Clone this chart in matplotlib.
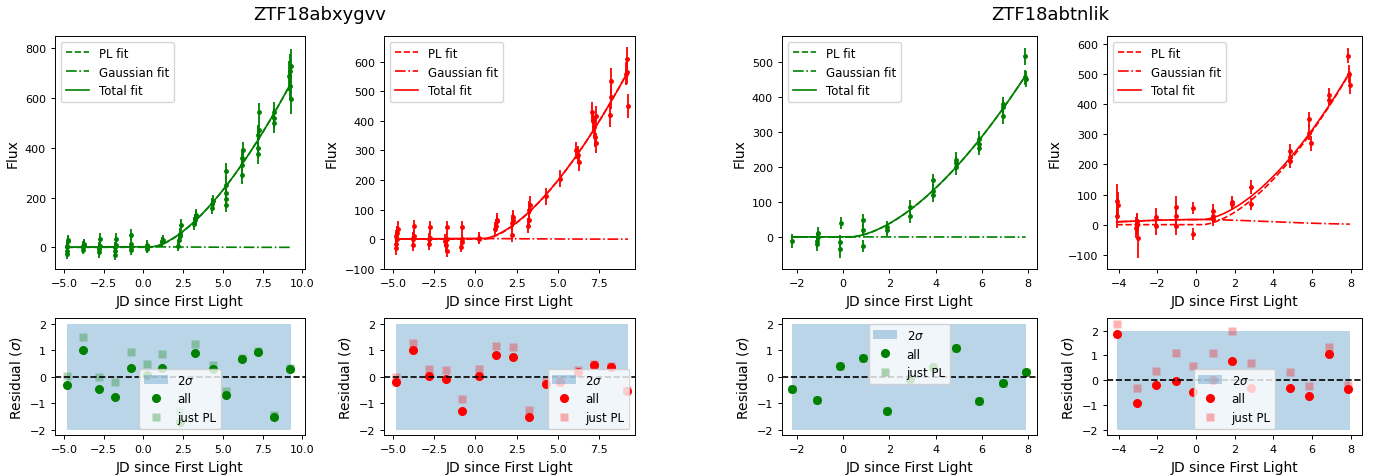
import numpy as np
import matplotlib
matplotlib.use("Agg")
import matplotlib.pyplot as plt
from matplotlib.ticker import MultipleLocator

# ---- ZTF18abxygvv, g band (green) ----
t1 = [-4.8, -4.8, -4.8, -4.8, -4.75, -4.75,
      -3.8, -3.8, -3.8, -3.75, -3.75,
      -2.8, -2.8, -2.8, -2.75, -2.75,
      -1.8, -1.8, -1.8, -1.75, -1.75,
      -0.8, -0.8, -0.75, -0.75,
      0.2, 0.2, 0.25, 0.25,
      1.2, 1.2, 1.25,
      2.2, 2.25, 2.3, 2.3, 2.35,
      3.2, 3.25, 3.3, 3.3,
      4.3, 4.3, 4.35,
      5.2, 5.2, 5.2, 5.2, 5.2,
      6.2, 6.2, 6.2, 6.25,
      7.2, 7.2, 7.2, 7.25, 7.25,
      8.2, 8.2, 8.25,
      9.15, 9.2, 9.25, 9.3, 9.3]
f1 = [-25, -15, 0, 5, 25, 30,
      -10, 0, 5, 10, 15,
      -20, -5, 0, 5, 35,
      -30, -15, 0, 10, 35,
      -10, 0, 15, 50,
      -5, 0, 5, 10,
      20, 25, 30,
      5, 30, 45, 55, 90,
      95, 110, 120, 130,
      160, 175, 185,
      170, 195, 220, 250, 305,
      290, 330, 360, 390,
      375, 400, 450, 470, 545,
      500, 520, 545,
      690, 650, 710, 730, 595]
e1 = [20, 20, 22, 20, 22, 20,
      18, 18, 20, 18, 18,
      22, 22, 20, 22, 22,
      22, 22, 22, 22, 22,
      22, 22, 22, 22,
      18, 18, 18, 18,
      18, 18, 18,
      20, 22, 22, 22, 25,
      25, 25, 25, 25,
      25, 25, 25,
      30, 30, 35, 35, 35,
      35, 35, 35, 35,
      40, 40, 40, 40, 35,
      40, 40, 40,
      60, 60, 65, 65, 60]

# ---- ZTF18abxygvv, r band (red) ----
t2 = [-4.85, -4.8, -4.8, -4.75, -4.75, -4.7,
      -3.8, -3.8, -3.8, -3.75, -3.75,
      -2.8, -2.8, -2.75, -2.75,
      -1.85, -1.8, -1.75, -1.75, -1.7,
      -0.85, -0.8, -0.8, -0.8,
      0.2, 0.2,
      1.2, 1.25, 1.3, 1.3,
      2.2, 2.2, 2.25, 2.25,
      3.2, 3.25, 3.25, 3.3,
      4.25,
      5.1,
      6.1, 6.2, 6.3,
      7.1, 7.15, 7.2, 7.25, 7.3, 7.3,
      8.15, 8.2, 8.2,
      9.15, 9.2, 9.2, 9.25]
f2 = [10, -30, -15, 0, 20, 35,
      -20, 0, 5, 10, 45,
      -15, 0, 5, 40,
      -5, -20, 0, 40, -40,
      -25, -10, 0, 40,
      0, 5,
      35, 45, 60, 65,
      15, 55, 65, 75,
      45, 65, 100, 115,
      145,
      205,
      300, 285, 260,
      430, 400, 380, 345, 415, 325,
      420, 480, 535,
      560, 610, 565, 450]
e2 = [22, 22, 22, 22, 25, 25,
      20, 20, 20, 20, 20,
      22, 22, 22, 20,
      22, 22, 22, 22, 22,
      20, 20, 20, 20,
      18, 18,
      22, 22, 22, 22,
      25, 25, 25, 25,
      25, 25, 30, 30,
      28,
      30,
      30, 30, 30,
      35, 35, 35, 35, 35, 35,
      40, 40, 45,
      40, 40, 40, 40]

# ---- ZTF18abtnlik, g band (green) ----
t3 = [-2.2,
      -1.15, -1.15, -1.1, -1.1,
      -0.15, -0.15, -0.1,
      0.85, 0.85, 0.85,
      1.9, 1.9,
      2.9, 2.9,
      3.9, 3.9, 3.9,
      4.9, 4.9, 4.9,
      5.9, 5.9, 5.9,
      6.9, 6.9, 6.9,
      7.85, 7.85, 7.9]
f3 = [-10,
      -20, -10, 0, 12,
      -35, -15, 40,
      -25, 20, 48,
      20, 28,
      60, 85,
      120, 130, 162,
      200, 210, 220,
      255, 265, 280,
      345, 370, 378,
      455, 515, 450]
e3 = [20,
      20, 20, 18, 18,
      25, 20, 18,
      18, 18, 18,
      18, 18,
      20, 20,
      20, 20, 18,
      22, 22, 22,
      22, 22, 22,
      22, 22, 22,
      22, 25, 22]

# ---- ZTF18abtnlik, r band (red) ----
t4 = [-4.1, -4.1, -4.05,
      -3.1, -3.05, -3.05, -3.0,
      -2.05, -2.05,
      -1.05, -1.05, -1.05,
      -0.15, -0.15,
      0.9, 0.9, 0.9,
      1.85, 1.85,
      2.85, 2.85,
      4.85, 4.85, 4.85,
      5.85, 5.85, 5.95,
      6.85, 6.9,
      7.85, 7.9, 7.95]
f4 = [30, 80, 65,
      -10, 0, 10, -45,
      -5, 25,
      -5, 30, 60,
      -30, 55,
      20, 30, 45,
      70, 75,
      70, 125,
      210, 225, 245,
      305, 350, 270,
      430, 415,
      560, 500, 465]
e4 = [40, 55, 45,
      35, 35, 30, 65,
      30, 30,
      30, 30, 35,
      20, 20,
      25, 25, 25,
      20, 20,
      20, 22,
      22, 22, 22,
      25, 25, 25,
      22, 22,
      25, 30, 30]

# fit parameters: amplitude, t0, index / gaussian amp, centre, width
pl_params = [(21.3, 0.5, 1.58), (18.4, 0.5, 1.58), (15.9, 0.3, 1.66), (17.2, 0.3, 1.66)]
gauss_params = [(2.0, 0.0, 3.0), (2.0, 0.0, 3.0), (0.5, 0.0, 3.0), (17.0, 0.0, 3.8)]

# ---- binned residuals ----
rt1 = [-4.8, -3.8, -2.8, -1.8, -0.8, 0.2, 1.2, 2.3, 3.25, 4.35, 5.2, 6.2, 7.2, 8.2, 9.2]
r_all1 = [-0.3, 1.02, -0.45, -0.77, 0.33, 0.08, 0.33, -1.7, 0.9, 0.3, -0.7, 0.67, 0.95, -1.5, 0.3]
r_pl1 = [0.05, 1.5, 0.0, -0.2, 0.93, 0.48, 0.88, -1.3, 1.25, 0.45, -0.55, 0.72, 0.98, -1.45, 0.32]

rt2 = [-4.8, -3.8, -2.8, -1.8, -0.8, 0.2, 1.25, 2.25, 3.25, 4.25, 5.1, 6.2, 7.2, 8.2, 9.2]
r_all2 = [-0.2, 1.02, 0.05, -0.08, -1.28, 0.03, 0.82, 0.77, -1.5, -0.28, -0.2, 0.2, 0.46, 0.36, -0.53]
r_pl2 = [0.0, 1.27, 0.3, 0.27, -0.83, 0.3, 1.18, 1.13, -1.25, -0.15, -0.1, 0.25, 0.5, 0.4, -0.5]

rt3 = [-2.2, -1.15, -0.15, 0.85, 1.9, 2.9, 3.9, 4.9, 5.9, 6.9, 7.9]
r_all3 = [-0.45, -0.87, 0.4, 0.72, -1.28, -0.07, 0.38, 1.08, -0.93, -0.25, 0.2]
r_pl3 = [-0.45, -0.87, 0.4, 0.72, -1.28, -0.07, 0.38, 1.08, -0.93, -0.25, 0.2]

rt4 = [-4.1, -3.05, -2.05, -1.05, -0.15, 0.9, 1.85, 2.85, 4.85, 5.85, 6.85, 7.85]
r_all4 = [1.87, -0.93, -0.2, -0.02, -0.47, 0.02, 0.77, -0.33, -0.31, -0.63, 1.07, -0.38]
r_pl4 = [2.27, -0.32, 0.37, 1.08, 0.55, 1.1, 2.0, 0.7, 0.33, -0.25, 1.33, -0.2]

names = ["ZTF18abxygvv", "ZTF18abtnlik"]

plt.rcParams["xtick.labelsize"] = 8
plt.rcParams["ytick.labelsize"] = 8
plt.rcParams["legend.fontsize"] = 8.5
plt.rcParams["axes.labelsize"] = 10
plt.rcParams["lines.linewidth"] = 1.2
plt.rcParams["axes.linewidth"] = 0.7
plt.rcParams["xtick.major.size"] = 3
plt.rcParams["ytick.major.size"] = 3
plt.rcParams["xtick.major.width"] = 0.7
plt.rcParams["ytick.major.width"] = 0.7

W, H = 1385, 477
fig = plt.figure(figsize=(W / 100, H / 100), dpi=100)


def box(x0, x1, y0, y1):
    return [x0 / W, 1 - y1 / H, (x1 - x0) / W, (y1 - y0) / H]


lefts = [(55, 305), (384, 635), (782, 1037), (1107, 1362)]
xlims = [(-5.56, 10.17), (-5.55, 9.68), (-2.65, 8.39), (-4.6, 8.58)]
xsteps = [2.5, 2.5, 2, 2]
ylims_top = [(-87, 849), (-101, 687), (-91, 573), (-147, 626)]
ysteps = [200, 100, 100, 100]
ylims_bot = [(-2.2, 2.23), (-2.2, 2.23), (-2.2, 2.23), (-2.22, 2.51)]
res_leg = ["lower center", "lower right", "upper center", "lower center"]
colors = ["green", "red", "green", "red"]

data = [(t1, f1, e1), (t2, f2, e2), (t3, f3, e3), (t4, f4, e4)]
resid = [(rt1, r_all1, r_pl1), (rt2, r_all2, r_pl2), (rt3, r_all3, r_pl3), (rt4, r_all4, r_pl4)]

for i in range(4):
    c = colors[i]
    t, f, e = [np.array(a) for a in data[i]]
    ax = fig.add_axes(box(lefts[i][0], lefts[i][1], 37, 270))
    tt = np.linspace(t.min(), t.max(), 400)
    A, t0, n = pl_params[i]
    g, mu, s = gauss_params[i]
    pl = A * np.clip(tt - t0, 0, None) ** n
    ga = g * np.exp(-(tt - mu) ** 2 / (2 * s ** 2))
    ax.plot(tt, pl, color=c, ls="--", label="PL fit")
    ax.plot(tt, ga, color=c, ls="-.", label="Gaussian fit")
    ax.plot(tt, pl + ga, color=c, ls="-", label="Total fit")
    ax.errorbar(t, f, yerr=e, fmt=".", color=c, ms=5, elinewidth=1.3)
    ax.set_xlim(*xlims[i])
    ax.set_ylim(*ylims_top[i])
    ax.xaxis.set_major_locator(MultipleLocator(xsteps[i]))
    ax.yaxis.set_major_locator(MultipleLocator(ysteps[i]))
    ax.set_xlabel("JD since First Light")
    ax.set_ylabel("Flux")
    ax.legend(loc="upper left")

    rt, ra, rp = [np.array(a) for a in resid[i]]
    axr = fig.add_axes(box(lefts[i][0], lefts[i][1], 319, 436))
    axr.fill_between([t.min(), t.max()], -2, 2, color="C0", alpha=0.3, lw=0, label=r"2$\sigma$")
    axr.plot(rt, ra, "o", color=c, ms=5.5, label="all")
    axr.plot(rt, rp, "s", color=c, ms=5.5, alpha=0.3, mec="none", label="just PL")
    axr.axhline(0, color="k", ls="--")
    axr.set_xlim(*xlims[i])
    axr.set_ylim(*ylims_bot[i])
    axr.xaxis.set_major_locator(MultipleLocator(xsteps[i]))
    axr.yaxis.set_major_locator(MultipleLocator(1))
    axr.set_xlabel("JD since First Light")
    axr.set_ylabel(r"Residual ($\sigma$)")
    axr.legend(loc=res_leg[i])

fig.text(320 / W, 1 - 15 / H, names[0], ha="center", va="center", fontsize=13)
fig.text(1050 / W, 1 - 15 / H, names[1], ha="center", va="center", fontsize=13)

fig.savefig("out.png", dpi=100)
